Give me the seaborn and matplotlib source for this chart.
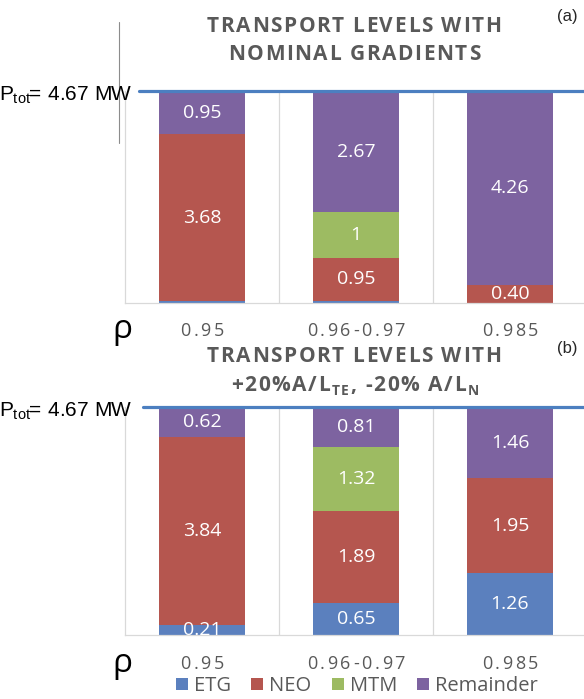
import numpy as np
import matplotlib
matplotlib.use("Agg")
import matplotlib.pyplot as plt
import seaborn as sns
from matplotlib.font_manager import FontProperties, findfont, get_font
from matplotlib.patches import Patch
from matplotlib.lines import Line2D

# ---- data -------------------------------------------------------------
rho_labels = ["0.95", "0.96-0.97", "0.985"]
components = ["ETG", "NEO", "MTM", "Remainder"]
colors = ["#5B80BE", "#B5564F", "#9DBB62", "#7D63A0"]

# (a) nominal gradients
etg_a = [0.04, 0.05, 0.0]
neo_a = [3.68, 0.95, 0.40]
mtm_a = [0.0, 1.0, 0.0]
rem_a = [0.95, 2.67, 4.26]

# (b) +20% A/L_Te, -20% A/L_n
etg_b = [0.21, 0.65, 1.26]
neo_b = [3.84, 1.89, 1.95]
mtm_b = [0.0, 1.32, 0.0]
rem_b = [0.62, 0.81, 1.46]

p_tot = 4.67
p_tot_text = "= 4.67 MW"

# ---- style ------------------------------------------------------------
sns.set_style("white")
plt.rcParams["font.family"] = ["Open Sans", "DejaVu Sans"]

W, H = 584, 699
GRAY = "#595959"
fig = plt.figure(figsize=(W / 100, H / 100), dpi=100)


def fx(px):
    return px / W


def fy(py):
    return 1 - py / H


def advance(ch, prop):
    font = get_font(findfont(prop))
    font.set_size(prop.get_size_in_points(), 100)
    return font.load_char(ord(ch)).linearHoriAdvance / 65536


def spaced_text(runs, x, y, ha="center", track=0.0, color="black"):
    """Place text runs char by char with extra tracking (pixels).
    runs: list of (string, FontProperties, baseline shift in px)."""
    placed = []
    cur = 0.0
    for s, prop, drop in runs:
        for ch in s:
            placed.append((cur, ch, prop, drop))
            cur += advance(ch, prop) + track
    total = cur - track
    if ha == "center":
        x0 = x - total / 2
    elif ha == "right":
        x0 = x - total
    else:
        x0 = x
    for dx, ch, prop, drop in placed:
        fig.text(fx(x0 + dx), fy(y + drop), ch, fontproperties=prop,
                 color=color, ha="left", va="baseline")


def fmt(v):
    return str(int(v)) if float(v).is_integer() else f"{v:.2f}"


title_fp = FontProperties(family="Open Sans", weight="bold", size=15)
title_sub = FontProperties(family="Open Sans", weight="bold", size=10)
tick_fp = FontProperties(family="Open Sans", size=13)
ptot_fp = FontProperties(family="Liberation Sans", size=15)
ptot_sub = FontProperties(family="Liberation Sans", size=10.5)

LEFT, RIGHT = 125, 587
centers = [LEFT + (RIGHT - LEFT) / 3 * (i + 0.5) for i in range(3)]


def draw_panel(rect_px, layers, line_start, tick_base, rho_y):
    x0, top, bottom = rect_px
    ax = fig.add_axes([fx(x0), fy(bottom), (RIGHT - x0) / W, (bottom - top) / H])
    base = np.zeros(len(rho_labels))
    for vals, col in zip(layers, colors):
        vals = np.asarray(vals, dtype=float)
        sns.barplot(x=rho_labels, y=vals, bottom=base, order=rho_labels,
                    color=col, width=0.56, saturation=1, errorbar=None,
                    linewidth=0, zorder=2, ax=ax)
        for i, (b, v) in enumerate(zip(base, vals)):
            if v >= 0.2:
                ax.text(i, b + v / 2, fmt(v), ha="center", va="center",
                        color="white", fontsize=14, zorder=4)
        base = base + vals

    ax.set_xlim(-0.5, 2.5)
    ax.set_ylim(0, p_tot)
    ax.set(xlabel="", ylabel="", yticks=[])
    ax.tick_params(axis="x", length=0, labelbottom=False)
    for k in (0.5, 1.5):
        ax.axvline(k, color="#D9D9D9", lw=0.9, zorder=0)
    for side in ("top", "right"):
        ax.spines[side].set_visible(False)
    for side in ("left", "bottom"):
        ax.spines[side].set_color("#D9D9D9")
        ax.spines[side].set_linewidth(0.9)
    ax.axhline(p_tot, xmin=(line_start - x0) / (RIGHT - x0), xmax=1,
               color="#4C7FC0", lw=2.3, zorder=5, clip_on=False)

    # category labels and rho symbol
    for c, lab in zip(centers, rho_labels):
        spaced_text([(lab, tick_fp, 0)], c, tick_base, track=2.6, color=GRAY)
    fig.text(fx(122), fy(rho_y), "ρ", fontsize=24, family="Open Sans",
             ha="center", va="center", color="black")
    return ax


# ---- panel (a) ----
draw_panel((LEFT, 91, 303), [etg_a, neo_a, mtm_a, rem_a], 139, 336, 329)
spaced_text([("TRANSPORT LEVELS WITH", title_fp, 0)], 354, 32, track=1.6, color=GRAY)
spaced_text([("NOMINAL GRADIENTS", title_fp, 0)], 354, 60, track=1.6, color=GRAY)
spaced_text([("P", ptot_fp, 0), ("tot", ptot_sub, 3), (p_tot_text, ptot_fp, 0)],
            131, 100, ha="right")
fig.text(fx(567), fy(16), "(a)", fontsize=12, family="Liberation Sans",
         ha="center", va="center")
fig.add_artist(Line2D([fx(119), fx(119)], [fy(22), fy(143)],
                      color="#8C8C8C", lw=0.8))

# ---- panel (b) ----
draw_panel((LEFT, 407, 635), [etg_b, neo_b, mtm_b, rem_b], 143, 669, 664)
spaced_text([("TRANSPORT LEVELS WITH", title_fp, 0)], 354, 362, track=1.6, color=GRAY)
spaced_text([("+20%A/L", title_fp, 0), ("TE", title_sub, 4),
             (", -20% A/L", title_fp, 0), ("N", title_sub, 4)],
            355, 391, track=1.6, color=GRAY)
spaced_text([("P", ptot_fp, 0), ("tot", ptot_sub, 3), (p_tot_text, ptot_fp, 0)],
            131, 416, ha="right")
fig.text(fx(567), fy(348), "(b)", fontsize=12, family="Liberation Sans",
         ha="center", va="center")

# ---- legend ----
handles = [Patch(facecolor=c, edgecolor="none", label=n) for n, c in zip(components, colors)]
fig.legend(handles=handles, loc="center", bbox_to_anchor=(fx(357), fy(686)),
           ncol=4, frameon=False, fontsize=14.5, labelcolor=GRAY,
           handlelength=0.6, handleheight=0.6, handletextpad=0.3,
           columnspacing=1.0, borderaxespad=0, borderpad=0)

fig.savefig("out.png", dpi=100)
